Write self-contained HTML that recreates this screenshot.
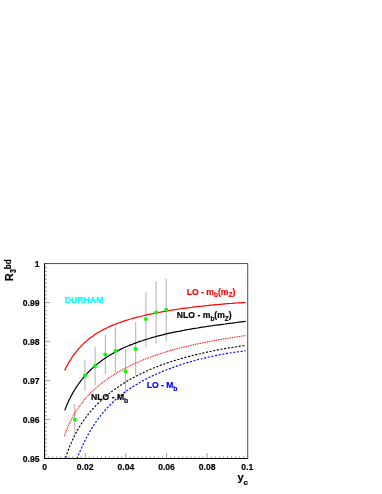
<!DOCTYPE html>
<html><head><meta charset="utf-8"><title>R3bd</title>
<style>
html,body{margin:0;padding:0;background:#fff;}
body{width:382px;height:494px;overflow:hidden;}
svg{display:block;}
text{font-family:"Liberation Sans",sans-serif;font-weight:bold;stroke-width:0.18;}
</style></head><body>
<svg width="382" height="494" viewBox="0 0 382 494">
<defs><filter id="bl" x="0" y="0" width="382" height="494" filterUnits="userSpaceOnUse"><feGaussianBlur stdDeviation="0.35"/></filter></defs>
<rect width="382" height="494" fill="#fff"/>
<g filter="url(#bl)">

<line x1="74.8" y1="404.0" x2="74.8" y2="433.7" stroke="#666" stroke-width="0.52"/>
<line x1="84.9" y1="360.1" x2="84.9" y2="390.8" stroke="#666" stroke-width="0.52"/>
<line x1="95.1" y1="346.7" x2="95.1" y2="385.0" stroke="#666" stroke-width="0.52"/>
<line x1="105.3" y1="334.6" x2="105.3" y2="374.2" stroke="#666" stroke-width="0.52"/>
<line x1="115.4" y1="327.2" x2="115.4" y2="372.3" stroke="#666" stroke-width="0.52"/>
<line x1="125.6" y1="348.8" x2="125.6" y2="393.0" stroke="#666" stroke-width="0.52"/>
<line x1="135.7" y1="322.2" x2="135.7" y2="375.4" stroke="#666" stroke-width="0.52"/>
<line x1="145.9" y1="292.4" x2="145.9" y2="347.5" stroke="#666" stroke-width="0.52"/>
<line x1="156.1" y1="281.4" x2="156.1" y2="343.5" stroke="#666" stroke-width="0.52"/>
<line x1="166.2" y1="278.8" x2="166.2" y2="341.0" stroke="#666" stroke-width="0.52"/>
<path d="M64.6,370.4 L65.4,368.9 L66.1,367.4 L66.9,365.9 L67.7,364.5 L68.4,363.2 L69.2,361.9 L70.0,360.6 L70.8,359.4 L71.5,358.2 L72.3,357.0 L73.1,355.9 L73.8,354.9 L74.6,353.8 L75.4,352.8 L76.1,351.8 L76.9,350.9 L77.7,349.9 L78.5,349.0 L79.2,348.2 L80.0,347.3 L80.8,346.5 L81.5,345.7 L82.3,344.9 L83.1,344.1 L83.8,343.4 L84.6,342.7 L85.4,342.0 L86.1,341.3 L86.9,340.6 L87.7,340.0 L88.5,339.3 L89.2,338.7 L90.0,338.1 L90.8,337.5 L91.5,337.0 L92.3,336.4 L93.1,335.9 L93.8,335.3 L94.6,334.8 L95.4,334.3 L96.1,333.8 L96.9,333.3 L97.7,332.8 L98.5,332.4 L99.2,331.9 L100.0,331.5 L100.8,331.0 L101.5,330.6 L102.3,330.2 L103.1,329.8 L103.8,329.4 L104.6,329.0 L105.4,328.6 L106.2,328.2 L106.9,327.8 L107.7,327.5 L108.5,327.1 L109.2,326.8 L110.0,326.4 L112.3,325.4 L114.6,324.5 L116.9,323.6 L119.2,322.7 L121.5,321.9 L123.8,321.1 L126.1,320.4 L128.4,319.7 L130.7,319.0 L133.0,318.3 L135.3,317.7 L137.6,317.1 L139.9,316.5 L142.2,316.0 L144.5,315.4 L146.8,314.9 L149.1,314.4 L151.4,313.9 L153.7,313.4 L156.0,313.0 L158.3,312.5 L160.6,312.1 L162.9,311.7 L165.2,311.3 L167.5,310.9 L169.8,310.5 L172.1,310.1 L174.4,309.7 L176.7,309.4 L179.0,309.0 L181.3,308.7 L183.6,308.4 L185.9,308.1 L188.2,307.8 L190.5,307.5 L192.8,307.2 L195.1,306.9 L197.4,306.6 L199.7,306.3 L202.0,306.1 L204.3,305.8 L206.6,305.6 L208.9,305.3 L211.2,305.1 L213.5,304.9 L215.8,304.7 L218.1,304.5 L220.4,304.3 L222.7,304.1 L225.0,303.9 L227.3,303.7 L229.6,303.5 L231.9,303.4 L234.2,303.2 L236.5,303.0 L238.8,302.9 L241.1,302.8 L243.4,302.6 L245.7,302.5" fill="none" stroke="#ff0000" stroke-width="1.2"/>
<path d="M64.7,410.3 L65.5,408.4 L66.2,406.5 L67.0,404.7 L67.8,402.9 L68.5,401.2 L69.3,399.6 L70.1,398.1 L70.8,396.6 L71.6,395.1 L72.4,393.7 L73.1,392.4 L73.9,391.1 L74.7,389.8 L75.4,388.6 L76.2,387.4 L77.0,386.2 L77.8,385.1 L78.5,384.0 L79.3,382.9 L80.1,381.9 L80.8,380.9 L81.6,379.9 L82.4,378.9 L83.1,378.0 L83.9,377.1 L84.7,376.2 L85.4,375.3 L86.2,374.4 L87.0,373.6 L87.7,372.8 L88.5,372.0 L89.3,371.2 L90.0,370.5 L90.8,369.7 L91.6,369.0 L92.3,368.3 L93.1,367.6 L93.9,366.9 L94.6,366.2 L95.4,365.6 L96.2,364.9 L96.9,364.3 L97.7,363.7 L98.5,363.0 L99.3,362.4 L100.0,361.9 L100.8,361.3 L101.6,360.7 L102.3,360.2 L103.1,359.6 L103.9,359.1 L104.6,358.5 L105.4,358.0 L106.2,357.5 L106.9,357.0 L107.7,356.5 L108.5,356.0 L109.2,355.6 L110.0,355.1 L112.3,353.7 L114.6,352.4 L116.9,351.2 L119.2,350.0 L121.5,348.9 L123.8,347.8 L126.1,346.8 L128.4,345.8 L130.7,344.9 L133.0,344.0 L135.3,343.1 L137.6,342.2 L139.9,341.4 L142.2,340.7 L144.5,339.9 L146.8,339.2 L149.1,338.5 L151.4,337.8 L153.7,337.2 L156.0,336.5 L158.3,335.9 L160.6,335.3 L162.9,334.8 L165.2,334.2 L167.5,333.7 L169.8,333.2 L172.1,332.7 L174.4,332.2 L176.7,331.7 L179.0,331.3 L181.3,330.8 L183.6,330.4 L185.9,329.9 L188.2,329.5 L190.5,329.1 L192.8,328.7 L195.1,328.3 L197.4,328.0 L199.7,327.6 L202.0,327.2 L204.3,326.9 L206.6,326.5 L208.9,326.2 L211.2,325.9 L213.5,325.5 L215.8,325.2 L218.1,324.9 L220.4,324.6 L222.7,324.3 L225.0,324.0 L227.3,323.6 L229.6,323.3 L231.9,323.1 L234.2,322.8 L236.5,322.5 L238.8,322.2 L241.1,321.9 L243.4,321.6 L245.7,321.3" fill="none" stroke="#000" stroke-width="1.2"/>
<path d="M64.4,436.0 L65.2,433.7 L65.9,431.6 L66.7,429.6 L67.5,427.7 L68.3,425.9 L69.0,424.1 L69.8,422.5 L70.6,420.9 L71.4,419.3 L72.1,417.9 L72.9,416.4 L73.7,415.1 L74.4,413.7 L75.2,412.4 L76.0,411.2 L76.8,410.0 L77.5,408.8 L78.3,407.7 L79.1,406.6 L79.9,405.5 L80.6,404.5 L81.4,403.5 L82.2,402.5 L82.9,401.5 L83.7,400.6 L84.5,399.6 L85.3,398.7 L86.0,397.8 L86.8,397.0 L87.6,396.1 L88.4,395.3 L89.1,394.5 L89.9,393.7 L90.7,392.9 L91.5,392.2 L92.2,391.4 L93.0,390.7 L93.8,389.9 L94.5,389.2 L95.3,388.5 L96.1,387.9 L96.9,387.2 L97.6,386.5 L98.4,385.9 L99.2,385.2 L100.0,384.6 L100.7,384.0 L101.5,383.4 L102.3,382.8 L103.0,382.2 L103.8,381.6 L104.6,381.0 L105.4,380.4 L106.1,379.9 L106.9,379.3 L107.7,378.8 L108.5,378.2 L109.2,377.7 L110.0,377.2 L112.3,375.7 L114.6,374.2 L116.9,372.8 L119.2,371.5 L121.5,370.2 L123.8,368.9 L126.1,367.7 L128.4,366.6 L130.7,365.4 L133.0,364.3 L135.3,363.3 L137.6,362.3 L139.9,361.3 L142.2,360.3 L144.5,359.4 L146.8,358.5 L149.1,357.6 L151.4,356.8 L153.7,355.9 L156.0,355.1 L158.3,354.4 L160.6,353.6 L162.9,352.9 L165.2,352.2 L167.5,351.5 L169.8,350.8 L172.1,350.1 L174.4,349.5 L176.7,348.9 L179.0,348.3 L181.3,347.7 L183.6,347.1 L185.9,346.5 L188.2,346.0 L190.5,345.5 L192.8,344.9 L195.1,344.4 L197.4,343.9 L199.7,343.5 L202.0,343.0 L204.3,342.5 L206.6,342.1 L208.9,341.6 L211.2,341.2 L213.5,340.8 L215.8,340.3 L218.1,339.9 L220.4,339.5 L222.7,339.1 L225.0,338.8 L227.3,338.4 L229.6,338.0 L231.9,337.7 L234.2,337.3 L236.5,336.9 L238.8,336.6 L241.1,336.3 L243.4,335.9 L245.7,335.6" fill="none" stroke="#ff0000" stroke-width="1.1" stroke-dasharray="1.0 0.8"/>
<path d="M65.7,457.8 L66.5,455.4 L67.2,453.2 L68.0,451.0 L68.7,449.0 L69.5,447.0 L70.2,445.2 L71.0,443.4 L71.7,441.6 L72.5,440.0 L73.2,438.4 L74.0,436.8 L74.7,435.3 L75.5,433.9 L76.2,432.5 L77.0,431.1 L77.7,429.8 L78.5,428.5 L79.2,427.2 L80.0,426.0 L80.7,424.8 L81.5,423.7 L82.2,422.5 L83.0,421.4 L83.7,420.3 L84.5,419.3 L85.2,418.3 L86.0,417.3 L86.7,416.3 L87.5,415.3 L88.2,414.4 L89.0,413.4 L89.7,412.5 L90.5,411.6 L91.2,410.7 L92.0,409.9 L92.7,409.0 L93.5,408.2 L94.2,407.4 L95.0,406.6 L95.7,405.8 L96.5,405.0 L97.2,404.3 L98.0,403.5 L98.7,402.8 L99.5,402.0 L100.2,401.3 L101.0,400.6 L101.7,399.9 L102.5,399.2 L103.2,398.6 L104.0,397.9 L104.7,397.2 L105.5,396.6 L106.2,396.0 L107.0,395.3 L107.7,394.7 L108.5,394.1 L109.2,393.5 L110.0,392.9 L112.3,391.1 L114.6,389.4 L116.9,387.8 L119.2,386.2 L121.5,384.7 L123.8,383.2 L126.1,381.8 L128.4,380.4 L130.7,379.1 L133.0,377.8 L135.3,376.6 L137.6,375.4 L139.9,374.3 L142.2,373.1 L144.5,372.1 L146.8,371.0 L149.1,370.0 L151.4,369.0 L153.7,368.0 L156.0,367.1 L158.3,366.2 L160.6,365.3 L162.9,364.5 L165.2,363.7 L167.5,362.9 L169.8,362.1 L172.1,361.3 L174.4,360.6 L176.7,359.9 L179.0,359.2 L181.3,358.5 L183.6,357.9 L185.9,357.2 L188.2,356.6 L190.5,356.0 L192.8,355.4 L195.1,354.9 L197.4,354.3 L199.7,353.8 L202.0,353.2 L204.3,352.7 L206.6,352.2 L208.9,351.7 L211.2,351.3 L213.5,350.8 L215.8,350.3 L218.1,349.9 L220.4,349.5 L222.7,349.0 L225.0,348.6 L227.3,348.2 L229.6,347.8 L231.9,347.5 L234.2,347.1 L236.5,346.7 L238.8,346.4 L241.1,346.0 L243.4,345.7 L245.7,345.3" fill="none" stroke="#000" stroke-width="1.15" stroke-dasharray="2.1 1.6"/>
<path d="M77.0,458.8 L77.6,457.3 L78.1,455.9 L78.7,454.5 L79.2,453.1 L79.8,451.8 L80.4,450.5 L80.9,449.2 L81.5,447.9 L82.0,446.7 L82.6,445.4 L83.2,444.2 L83.7,443.1 L84.3,441.9 L84.8,440.8 L85.4,439.7 L85.9,438.6 L86.5,437.5 L87.1,436.4 L87.6,435.4 L88.2,434.4 L88.7,433.4 L89.3,432.4 L89.9,431.4 L90.4,430.5 L91.0,429.6 L91.5,428.6 L92.1,427.7 L92.7,426.9 L93.2,426.0 L93.8,425.1 L94.3,424.3 L94.9,423.4 L95.5,422.6 L96.0,421.8 L96.6,421.0 L97.1,420.2 L97.7,419.5 L98.3,418.7 L98.8,418.0 L99.4,417.2 L99.9,416.5 L100.5,415.8 L101.1,415.1 L101.6,414.4 L102.2,413.7 L102.7,413.0 L103.3,412.4 L103.8,411.7 L104.4,411.1 L105.0,410.4 L105.5,409.8 L106.1,409.2 L106.6,408.6 L107.2,407.9 L107.8,407.4 L108.3,406.8 L108.9,406.2 L109.4,405.6 L110.0,405.0 L112.3,402.8 L114.6,400.6 L116.9,398.6 L119.2,396.6 L121.5,394.8 L123.8,393.0 L126.1,391.3 L128.4,389.7 L130.7,388.1 L133.0,386.6 L135.3,385.2 L137.6,383.8 L139.9,382.4 L142.2,381.1 L144.5,379.9 L146.8,378.7 L149.1,377.5 L151.4,376.4 L153.7,375.3 L156.0,374.3 L158.3,373.2 L160.6,372.3 L162.9,371.3 L165.2,370.4 L167.5,369.5 L169.8,368.6 L172.1,367.7 L174.4,366.9 L176.7,366.1 L179.0,365.3 L181.3,364.6 L183.6,363.8 L185.9,363.1 L188.2,362.4 L190.5,361.7 L192.8,361.1 L195.1,360.5 L197.4,359.8 L199.7,359.2 L202.0,358.7 L204.3,358.1 L206.6,357.6 L208.9,357.0 L211.2,356.5 L213.5,356.0 L215.8,355.6 L218.1,355.1 L220.4,354.6 L222.7,354.2 L225.0,353.8 L227.3,353.4 L229.6,353.0 L231.9,352.7 L234.2,352.3 L236.5,352.0 L238.8,351.7 L241.1,351.4 L243.4,351.1 L245.7,350.8" fill="none" stroke="#0000ff" stroke-width="1.15" stroke-dasharray="2.1 1.6"/>
<circle cx="74.8" cy="419.5" r="2" fill="#00ff00"/>
<circle cx="84.9" cy="375.5" r="2" fill="#00ff00"/>
<circle cx="95.1" cy="366.1" r="2" fill="#00ff00"/>
<circle cx="105.3" cy="354.4" r="2" fill="#00ff00"/>
<circle cx="115.4" cy="350.9" r="2" fill="#00ff00"/>
<circle cx="125.6" cy="371.2" r="2" fill="#00ff00"/>
<circle cx="135.7" cy="348.9" r="2" fill="#00ff00"/>
<circle cx="145.9" cy="319.0" r="2" fill="#00ff00"/>
<circle cx="156.1" cy="312.4" r="2" fill="#00ff00"/>
<circle cx="166.2" cy="309.8" r="2" fill="#00ff00"/>
<rect x="44.6" y="263.7" width="203.2" height="194.8" fill="none" stroke="#000" stroke-width="0.7"/>
<path d="M44.6,263.4 V458.5 H248.10000000000002" fill="none" stroke="#000" stroke-width="0.95"/>
<path d="M48.66,458.5 v-2.2 M52.73,458.5 v-2.2 M56.79,458.5 v-2.2 M60.86,458.5 v-2.2 M64.92,458.5 v-2.5 M68.98,458.5 v-2.2 M73.05,458.5 v-2.2 M77.11,458.5 v-2.2 M81.18,458.5 v-2.2 M85.24,458.5 v-5.5 M89.30,458.5 v-2.2 M93.37,458.5 v-2.2 M97.43,458.5 v-2.2 M101.50,458.5 v-2.2 M105.56,458.5 v-2.5 M109.62,458.5 v-2.2 M113.69,458.5 v-2.2 M117.75,458.5 v-2.2 M121.82,458.5 v-2.2 M125.88,458.5 v-5.5 M129.94,458.5 v-2.2 M134.01,458.5 v-2.2 M138.07,458.5 v-2.2 M142.14,458.5 v-2.2 M146.20,458.5 v-2.5 M150.26,458.5 v-2.2 M154.33,458.5 v-2.2 M158.39,458.5 v-2.2 M162.46,458.5 v-2.2 M166.52,458.5 v-5.5 M170.58,458.5 v-2.2 M174.65,458.5 v-2.2 M178.71,458.5 v-2.2 M182.78,458.5 v-2.2 M186.84,458.5 v-2.5 M190.90,458.5 v-2.2 M194.97,458.5 v-2.2 M199.03,458.5 v-2.2 M203.10,458.5 v-2.2 M207.16,458.5 v-5.5 M211.22,458.5 v-2.2 M215.29,458.5 v-2.2 M219.35,458.5 v-2.2 M223.42,458.5 v-2.2 M227.48,458.5 v-2.5 M231.54,458.5 v-2.2 M235.61,458.5 v-2.2 M239.67,458.5 v-2.2 M243.74,458.5 v-2.2 M44.6,454.60 h2.2 M44.6,450.71 h2.2 M44.6,446.81 h2.2 M44.6,442.92 h2.2 M44.6,439.02 h2.5 M44.6,435.12 h2.2 M44.6,431.23 h2.2 M44.6,427.33 h2.2 M44.6,423.44 h2.2 M44.6,419.54 h5.5 M44.6,415.64 h2.2 M44.6,411.75 h2.2 M44.6,407.85 h2.2 M44.6,403.96 h2.2 M44.6,400.06 h2.5 M44.6,396.16 h2.2 M44.6,392.27 h2.2 M44.6,388.37 h2.2 M44.6,384.48 h2.2 M44.6,380.58 h5.5 M44.6,376.68 h2.2 M44.6,372.79 h2.2 M44.6,368.89 h2.2 M44.6,365.00 h2.2 M44.6,361.10 h2.5 M44.6,357.20 h2.2 M44.6,353.31 h2.2 M44.6,349.41 h2.2 M44.6,345.52 h2.2 M44.6,341.62 h5.5 M44.6,337.72 h2.2 M44.6,333.83 h2.2 M44.6,329.93 h2.2 M44.6,326.04 h2.2 M44.6,322.14 h2.5 M44.6,318.24 h2.2 M44.6,314.35 h2.2 M44.6,310.45 h2.2 M44.6,306.56 h2.2 M44.6,302.66 h5.5 M44.6,298.76 h2.2 M44.6,294.87 h2.2 M44.6,290.97 h2.2 M44.6,287.08 h2.2 M44.6,283.18 h2.5 M44.6,279.28 h2.2 M44.6,275.39 h2.2 M44.6,271.49 h2.2 M44.6,267.60 h2.2" fill="none" stroke="#000" stroke-width="0.38"/>
<text transform="translate(44.6,469.8) scale(1,1.1)" font-size="8.6" text-anchor="middle" stroke="#000">0</text>
<text transform="translate(85.2,469.8) scale(1,1.1)" font-size="8.6" text-anchor="middle" stroke="#000">0.02</text>
<text transform="translate(125.9,469.8) scale(1,1.1)" font-size="8.6" text-anchor="middle" stroke="#000">0.04</text>
<text transform="translate(166.5,469.8) scale(1,1.1)" font-size="8.6" text-anchor="middle" stroke="#000">0.06</text>
<text transform="translate(207.2,469.8) scale(1,1.1)" font-size="8.6" text-anchor="middle" stroke="#000">0.08</text>
<text transform="translate(247.3,469.8) scale(1,1.1)" font-size="8.6" text-anchor="middle" stroke="#000">0.1</text>
<text transform="translate(39.5,461.9) scale(1,1.1)" font-size="8.6" text-anchor="end" stroke="#000">0.95</text>
<text transform="translate(39.5,422.9) scale(1,1.1)" font-size="8.6" text-anchor="end" stroke="#000">0.96</text>
<text transform="translate(39.5,384.0) scale(1,1.1)" font-size="8.6" text-anchor="end" stroke="#000">0.97</text>
<text transform="translate(39.5,345.0) scale(1,1.1)" font-size="8.6" text-anchor="end" stroke="#000">0.98</text>
<text transform="translate(39.5,306.1) scale(1,1.1)" font-size="8.6" text-anchor="end" stroke="#000">0.99</text>
<text transform="translate(39.5,267.1) scale(1,1.1)" font-size="8.6" text-anchor="end" stroke="#000">1</text>
<text transform="translate(64.8,303.3) scale(1,1.09)" font-size="8.7" fill="#00ffff" stroke="#00ffff">DURHAM</text>
<text transform="translate(186.7,294.8) scale(1,1.09)" font-size="8.65" fill="#ff0000" stroke="#ff0000">LO - m<tspan font-size="6.4" dy="2.4">b</tspan><tspan dy="-2.4">(m</tspan><tspan font-size="6.4" dy="2.4">Z</tspan><tspan dy="-2.4">)</tspan></text>
<text transform="translate(176.8,318.2) scale(1,1.09)" font-size="8.65" fill="#000" stroke="#000">NLO - m<tspan font-size="6.4" dy="2.4">b</tspan><tspan dy="-2.4">(m</tspan><tspan font-size="6.4" dy="2.4">Z</tspan><tspan dy="-2.4">)</tspan></text>
<text transform="translate(91.1,400.0) scale(1,1.09)" font-size="8.65" fill="#000" stroke="#000">NLO - M<tspan font-size="6.8" dy="2.8" dx="-0.3">b</tspan></text>
<text transform="translate(146.7,388.2) scale(1,1.09)" font-size="8.65" fill="#0000ff" stroke="#0000ff">LO - M<tspan font-size="6.8" dy="2.8" dx="-0.3">b</tspan></text>
<text x="237.4" y="480.5" font-size="11.2" stroke="#000">y<tspan font-size="8" dy="4" dx="-0.2">c</tspan></text>
<g transform="translate(12.9,281.2) rotate(-90)" stroke="#000"><text transform="translate(0,0) scale(0.94,1)" font-size="11.7">R</text><text transform="translate(8.3,3.4) scale(0.76,1)" font-size="9.4">3</text><text transform="translate(12.0,-1.7) scale(0.93,1)" font-size="8.7">bd</text></g>
</g></svg></body></html>
